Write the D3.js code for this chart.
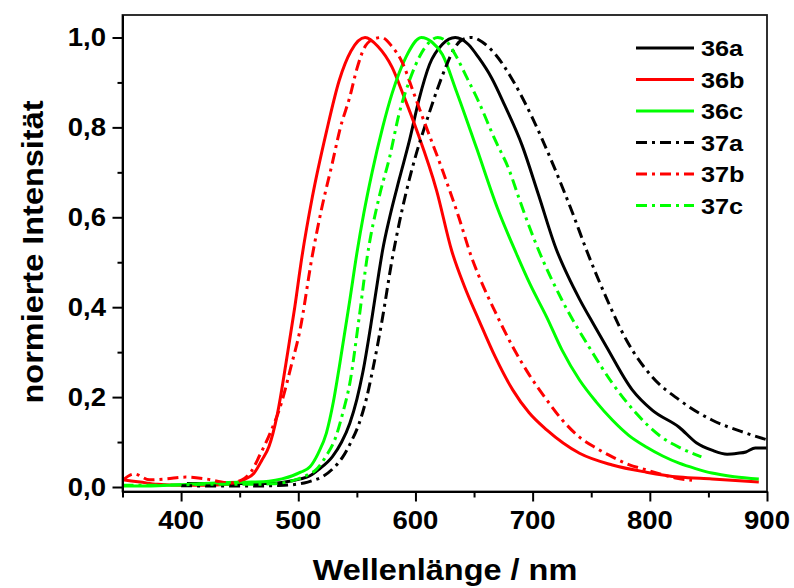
<!DOCTYPE html>
<html>
<head>
<meta charset="utf-8">
<script src="https://cdn.jsdelivr.net/npm/d3@7"></script>
<style>
  html, body { margin: 0; padding: 0; background: #fff; }
  svg { display: block; }
  text { font-family: "Liberation Sans", Arial, sans-serif; font-weight: bold; fill: #000; }
</style>
</head>
<body>
<svg id="chart" width="794" height="588"></svg>
<script>
// Normalised emission spectra, [wavelength nm, normalised intensity]
const s36a = [
  [405,0.008],[420,0.008],[440,0.008],[460,0.008],[475,0.008],[486,0.010],[495,0.014],[502,0.018],
  [510,0.025],[518,0.040],[529,0.067],[537,0.100],[544,0.142],[550,0.195],[555,0.254],[563,0.378],
  [569,0.480],[572,0.527],[578,0.600],[586,0.683],[595,0.772],[603,0.862],[612,0.940],[623,0.985],
  [634,1.000],[645,0.985],[654,0.955],[665,0.910],[676,0.850],[691,0.760],[705,0.650],[720,0.530],
  [730,0.470],[740,0.418],[752,0.362],[763,0.312],[785,0.216],[802,0.171],[825,0.133],[840,0.098],
  [853,0.082],[866,0.073],[875,0.075],[882,0.078],[890,0.087],[900,0.087]
];
const s36b = [
  [350,0.016],[365,0.011],[380,0.006],[400,0.004],[420,0.004],[440,0.006],[448,0.010],[455,0.018],
  [462,0.030],[469,0.060],[475,0.090],[482,0.160],[491,0.300],[497,0.400],[503,0.510],[512,0.645],
  [524,0.790],[535,0.905],[545,0.970],[557,1.000],[568,0.980],[580,0.934],[590,0.870],[601,0.794],
  [618,0.660],[631,0.525],[642,0.445],[654,0.372],[668,0.290],[683,0.216],[697,0.165],[712,0.127],
  [740,0.075],[768,0.049],[797,0.033],[825,0.022],[853,0.018],[893,0.011]
];
const s36c = [
  [350,0.002],[380,0.003],[400,0.005],[420,0.008],[440,0.010],[460,0.011],[475,0.013],[486,0.018],
  [495,0.025],[502,0.033],[510,0.045],[517,0.075],[524,0.120],[530,0.190],[535,0.267],[544,0.416],
  [550,0.520],[556,0.610],[563,0.700],[572,0.800],[580,0.875],[592,0.957],[605,1.000],[614,0.990],
  [623,0.962],[635,0.880],[652,0.755],[670,0.620],[686,0.520],[698,0.450],[712,0.378],[725,0.305],
  [740,0.238],[754,0.190],[768,0.149],[782,0.115],[797,0.089],[811,0.069],[825,0.053],[839,0.041],
  [853,0.031],[872,0.023],[893,0.018]
];
const s37a = [
  [400,0.003],[430,0.002],[460,0.002],[480,0.003],[495,0.005],[505,0.009],[513,0.015],[520,0.022],
  [530,0.042],[538,0.067],[545,0.100],[552,0.142],[558,0.195],[563,0.254],[572,0.378],[580,0.505],
  [586,0.585],[592,0.655],[600,0.735],[609,0.810],[618,0.880],[626,0.935],[633,0.975],[640,0.995],
  [648,1.000],[657,0.990],[668,0.963],[683,0.905],[700,0.820],[717,0.720],[734,0.610],[747,0.520],
  [763,0.420],[780,0.327],[802,0.245],[825,0.194],[853,0.149],[882,0.120],[900,0.105]
];
const s37b = [
  [350,0.015],[360,0.029],[373,0.016],[387,0.018],[404,0.022],[421,0.018],[441,0.009],[452,0.016],
  [460,0.035],[467,0.070],[476,0.120],[486,0.190],[494,0.270],[501,0.343],[512,0.515],[520,0.620],
  [529,0.720],[536,0.800],[544,0.868],[550,0.930],[556,0.975],[563,0.995],[571,1.000],[580,0.980],
  [589,0.943],[598,0.880],[606,0.823],[623,0.705],[637,0.600],[648,0.510],[654,0.470],[668,0.390],
  [683,0.312],[697,0.250],[712,0.194],[725,0.150],[740,0.111],[754,0.087],[768,0.067],[782,0.050],
  [797,0.038],[810,0.028],[822,0.020],[836,0.015]
];
const s37c = [
  [350,0.004],[380,0.004],[400,0.005],[420,0.006],[440,0.006],[460,0.006],[475,0.007],[486,0.009],
  [500,0.018],[508,0.027],[515,0.038],[524,0.070],[532,0.111],[538,0.165],[544,0.231],[552,0.378],
  [559,0.515],[569,0.645],[578,0.734],[586,0.830],[595,0.905],[604,0.960],[612,0.990],[619,1.000],
  [627,0.990],[635,0.957],[644,0.910],[652,0.868],[668,0.772],[680,0.705],[688,0.645],[697,0.580],
  [707,0.515],[725,0.416],[748,0.312],[768,0.231],[788,0.165],[810,0.111],[826,0.087],[844,0.067]
];

const seriesNames  = ["36a", "36b", "36c", "37a", "37b", "37c"];
const seriesData   = [s36a, s36b, s36c, s37a, s37b, s37c];
const seriesColors = ["#000000", "#ff0000", "#00ff00", "#000000", "#ff0000", "#00ff00"];
const seriesDashed = [false, false, false, true, true, true];

const xMajorTicks = [400, 500, 600, 700, 800, 900];
const xMinorTicks = [350, 450, 550, 650, 750, 850];
const yMajorTicks = [0.0, 0.2, 0.4, 0.6, 0.8, 1.0];
const yMinorTicks = [0.1, 0.3, 0.5, 0.7, 0.9];
const xTitle = "Wellenlänge / nm";
const yTitle = "normierte Intensität";

const plot = { left: 122.5, right: 767, top: 15, bottom: 491.5 };
const dashPattern = "11,5,3,5";
const textStretch = 1.1;

const svg = d3.select("#chart");

const x = d3.scaleLinear().domain([350, 900]).range([plot.left, plot.right]);
const y = d3.scaleLinear().domain([-0.01, 1.05]).range([plot.bottom, plot.top]);

const de = d3.formatLocale({ decimal: ",", thousands: ".", grouping: [3], currency: ["", " €"] });
const fmtY = de.format(".1f");

svg.append("defs").append("clipPath").attr("id", "plotClip")
  .append("rect")
  .attr("x", plot.left).attr("y", plot.top)
  .attr("width", plot.right - plot.left).attr("height", plot.bottom - plot.top);

// Curves
const line = d3.line()
  .x(d => x(d[0]))
  .y(d => y(d[1]))
  .curve(d3.curveMonotoneX);

const curves = svg.append("g").attr("clip-path", "url(#plotClip)");
seriesData.forEach((data, i) => {
  curves.append("path")
    .datum(data)
    .attr("d", line)
    .attr("fill", "none")
    .attr("stroke", seriesColors[i])
    .attr("stroke-width", 3)
    .attr("stroke-linejoin", "round")
    .attr("stroke-dasharray", seriesDashed[i] ? dashPattern : null);
});

// Frame
svg.append("rect")
  .attr("x", plot.left).attr("y", plot.top)
  .attr("width", plot.right - plot.left).attr("height", plot.bottom - plot.top)
  .attr("fill", "none").attr("stroke", "#1a1a1a").attr("stroke-width", 1.8);

// Axes: tick marks via d3 axes, labels placed with the same scales
function styleAxis(g) {
  g.select(".domain").attr("stroke", "#000").attr("stroke-width", 2);
  g.selectAll(".tick line").attr("stroke", "#000").attr("stroke-width", 2);
  g.selectAll(".tick text").remove();
}

svg.append("g").attr("transform", `translate(0,${plot.bottom})`)
  .call(d3.axisBottom(x).tickValues(xMajorTicks).tickSize(10).tickSizeOuter(0).tickFormat(""))
  .call(styleAxis);
svg.append("g").attr("transform", `translate(0,${plot.bottom})`)
  .call(d3.axisBottom(x).tickValues(xMinorTicks).tickSize(6).tickSizeOuter(0).tickFormat(""))
  .call(styleAxis);
svg.append("g").attr("transform", `translate(${plot.left},0)`)
  .call(d3.axisLeft(y).tickValues(yMajorTicks).tickSize(10).tickSizeOuter(0).tickFormat(""))
  .call(styleAxis);
svg.append("g").attr("transform", `translate(${plot.left},0)`)
  .call(d3.axisLeft(y).tickValues(yMinorTicks).tickSize(5).tickSizeOuter(0).tickFormat(""))
  .call(styleAxis);

svg.append("g").selectAll("text")
  .data(xMajorTicks).join("text")
  .attr("transform", d => `translate(${x(d)},529) scale(${textStretch},1)`)
  .attr("text-anchor", "middle")
  .attr("font-size", 25)
  .text(d => d3.format("d")(d));

svg.append("g").selectAll("text")
  .data(yMajorTicks).join("text")
  .attr("transform", d => `translate(106,${y(d) + 9}) scale(${textStretch},1)`)
  .attr("text-anchor", "end")
  .attr("font-size", 25)
  .text(d => fmtY(d));

// Axis titles
svg.append("text")
  .attr("transform", `translate(445,580) scale(1.12,1)`)
  .attr("text-anchor", "middle")
  .attr("font-size", 29)
  .text(xTitle);

svg.append("text")
  .attr("transform", `translate(43,252) rotate(-90) scale(1.12,1)`)
  .attr("text-anchor", "middle")
  .attr("font-size", 29)
  .text(yTitle);

// Legend
const legendTop = 48, legendStep = 31.5;
const legend = svg.append("g");
seriesNames.forEach((name, i) => {
  const ly = legendTop + i * legendStep;
  legend.append("line")
    .attr("x1", 636).attr("x2", 694)
    .attr("y1", ly).attr("y2", ly)
    .attr("stroke", seriesColors[i])
    .attr("stroke-width", 3.2)
    .attr("stroke-dasharray", seriesDashed[i] ? dashPattern : null);
  legend.append("text")
    .attr("transform", `translate(701,${ly + 8}) scale(1.15,1)`)
    .attr("font-size", 22)
    .text(name);
});
</script>
</body>
</html>
